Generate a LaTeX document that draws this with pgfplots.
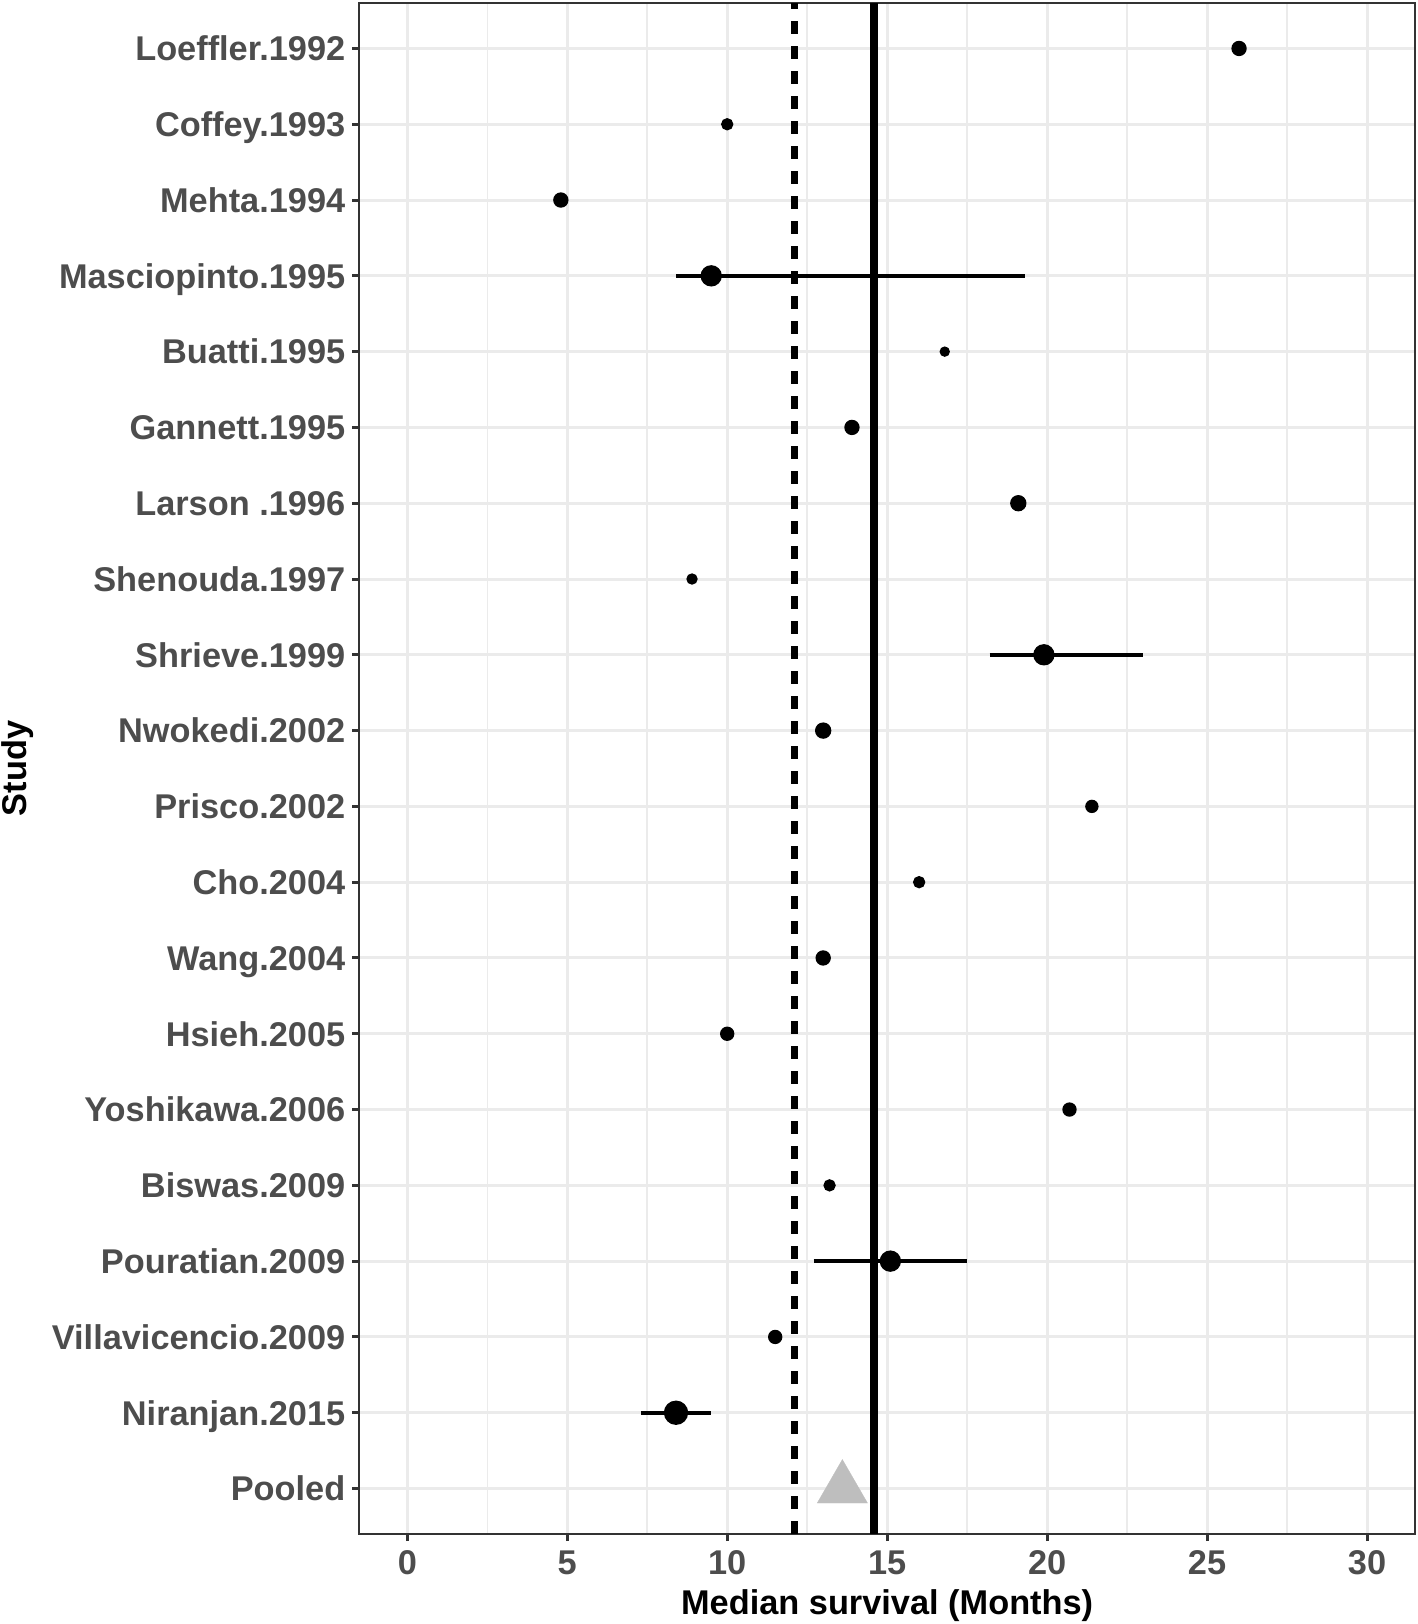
\documentclass[border=0pt]{standalone}
\usepackage{pgfplots}
\pgfplotsset{compat=1.18}
\usepackage{pgfplotstable}
\usepackage{fontspec}
\setmainfont{Liberation Sans}
\definecolor{gridc}{HTML}{EBEBEB}
\definecolor{tickc}{HTML}{4D4D4D}
\definecolor{axc}{HTML}{333333}
\definecolor{pool}{HTML}{BEBEBE}

\pgfplotstableread{
y m r
20 26.0 2.1
19 10.0 1.65
18 4.8 2.1
17 9.5 3.0
16 16.8 1.35
15 13.9 2.1
14 19.1 2.25
13 8.9 1.5
12 19.9 3.0
11 13.0 2.25
10 21.4 1.8
9 16.0 1.65
8 13.0 2.1
7 10.0 1.95
6 20.7 1.95
5 13.2 1.65
4 15.1 3.0
3 11.5 1.95
2 8.4 3.45
}\studies

\begin{document}
\begin{tikzpicture}
\useasboundingbox (-107.8pt,-27pt) rectangle (317.6pt,460.2pt);
\begin{axis}[
  at={(0,0)}, anchor=south west,
  scale only axis, width=316.7pt, height=459.3pt,
  xmin=-1.5, xmax=31.5, ymin=0.4, ymax=20.6,
  xtick={0,5,...,30}, minor xtick={2.5,7.5,...,27.5},
  ytick={1,...,20},
  yticklabels={Pooled, Niranjan.2015, Villavicencio.2009, Pouratian.2009, Biswas.2009, Yoshikawa.2006, Hsieh.2005, Wang.2004, Cho.2004, Prisco.2002, Nwokedi.2002, Shrieve.1999, Shenouda.1997, Larson .1996, Gannett.1995, Buatti.1995, Masciopinto.1995, Mehta.1994, Coffey.1993, Loeffler.1992},
  grid=both,
  major grid style={gridc, line width=0.9pt},
  minor grid style={gridc, line width=0.45pt},
  tick align=outside, tick pos=left,
  major tick length=2.1pt, minor tick length=0pt,
  every tick/.style={axc, line width=0.9pt},
  axis line style={axc, line width=0.6pt},
  /pgf/number format/assume math mode=true,
  tick label style={font=\fontsize{10.3}{12}\selectfont\bfseries, color=tickc},
  yticklabel style={anchor=east, text height=7.4pt, text depth=0pt, xshift=1.4pt},
  xticklabel style={yshift=0.6pt},
  xlabel={Median survival (Months)}, ylabel={Study},
  every axis x label/.style={at={(axis description cs:0.5,0)}, yshift=-21.6pt, anchor=center, font=\fontsize{10.3}{12}\selectfont\bfseries},
  every axis y label/.style={at={(axis description cs:0,0.5)}, xshift=-102.5pt, rotate=90, anchor=center, font=\fontsize{10.3}{12}\selectfont\bfseries},
]
\addplot[black, line width=1.2pt] coordinates {(8.4,17) (19.3,17)};
\addplot[black, line width=1.2pt] coordinates {(18.2,12) (23.0,12)};
\addplot[black, line width=1.2pt] coordinates {(12.7,4) (17.5,4)};
\addplot[black, line width=1.2pt] coordinates {(7.3,2) (9.5,2)};
\addplot[black, line width=2pt, dash pattern=on 3.9pt off 3.6pt] coordinates {(12.1,0.4) (12.1,20.6)};
\addplot[black, line width=2.4pt] coordinates {(14.6,0.4) (14.6,20.6)};
\addplot[
  scatter, only marks, mark=*,
  scatter/use mapped color={draw=black, fill=black},
  visualization depends on={\thisrow{r} \as \perpointmarksize},
  scatter/@pre marker code/.append style={/tikz/mark size=\perpointmarksize pt}
] table[x=m, y=y, meta=r] {\studies};
\addplot[only marks, mark=triangle*, mark size=8.7pt, color=pool, mark options={solid, fill=pool, draw=pool, line width=0.1pt}] coordinates {(13.6,1)};
\end{axis}
\end{tikzpicture}
\end{document}
